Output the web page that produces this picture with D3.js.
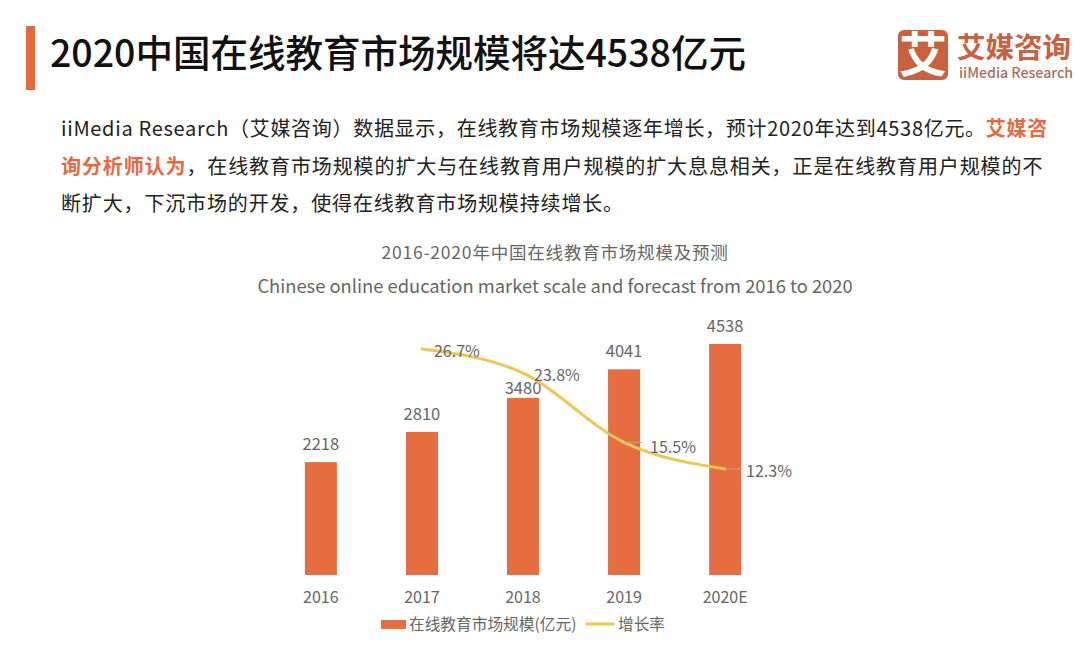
<!DOCTYPE html>
<html>
<head>
<meta charset="utf-8">
<script src="https://cdn.jsdelivr.net/npm/d3@7/dist/d3.min.js"></script>
<style>
html, body { margin: 0; padding: 0; background: #fff; }
text { font-family: "Noto Sans CJK SC", "Noto Sans", sans-serif; }
</style>
</head>
<body>
<div id="chart"></div>
<script>
var years = ['2016', '2017', '2018', '2019', '2020E'];
var marketScale = [2218, 2810, 3480, 4041, 4538];
var growthYears = ['2017', '2018', '2019', '2020E'];
var growthRate = [26.7, 23.8, 15.5, 12.3];
var seriesNames = ['在线教育市场规模(亿元)', '增长率'];
var bodyLines = [
    [['iiMedia Research（艾媒咨询）数据显示，在线教育市场规模逐年增长，预计2020年达到4538亿元。', '#222'], ['艾媒咨', '#e8693d']],
    [['询分析师认为', '#e8693d'], ['，在线教育市场规模的扩大与在线教育用户规模的扩大息息相关，正是在线教育用户规模的不', '#222']],
    [['断扩大，下沉市场的开发，使得在线教育市场规模持续增长。', '#222']]
];
var bodySpacing = [0.7, 0.9, 0.85];

var width = 1080, height = 666;
var orange = '#e76c3f', yellow = '#ecc84f', grey = '#666';

var svg = d3.select('#chart').append('svg')
    .attr('width', width)
    .attr('height', height)
    .style('display', 'block');

// header
svg.append('rect').attr('x', 26).attr('y', 26).attr('width', 9).attr('height', 64).attr('fill', '#e8693d');
svg.append('text').attr('x', 50).attr('y', 67)
    .attr('font-size', 37.5).attr('font-weight', 500).attr('fill', '#111')
    .text('2020中国在线教育市场规模将达4538亿元');

// logo
svg.append('rect').attr('x', 898).attr('y', 30).attr('width', 50).attr('height', 50).attr('rx', 6).attr('fill', '#c9603f');
svg.append('text').attr('x', 923).attr('y', 72).attr('text-anchor', 'middle')
    .attr('font-size', 48).attr('font-weight', 700).attr('fill', '#fff').text('艾');
svg.append('text').attr('x', 957).attr('y', 58)
    .attr('font-size', 28.5).attr('font-weight', 700).attr('fill', '#c9603f').text('艾媒咨询');
svg.append('text').attr('x', 959).attr('y', 77.5)
    .attr('font-size', 14.2).attr('font-weight', 500).attr('fill', '#a8705c').text('iiMedia Research');

// paragraph
bodyLines.forEach(function(parts, i) {
    var line = svg.append('text').attr('x', 61).attr('y', 136 + i * 37.5)
        .attr('font-size', 20).attr('letter-spacing', bodySpacing[i]);
    parts.forEach(function(p) {
        line.append('tspan').attr('fill', p[1])
            .attr('font-weight', p[1] === '#222' ? 400 : 700).text(p[0]);
    });
});

// chart titles
svg.append('text').attr('x', 555).attr('y', 259).attr('text-anchor', 'middle')
    .attr('font-size', 17.5).attr('letter-spacing', 0.8).attr('fill', grey).text('2016-2020年中国在线教育市场规模及预测');
svg.append('text').attr('x', 555).attr('y', 293).attr('text-anchor', 'middle')
    .attr('font-size', 18.35).attr('fill', grey).text('Chinese online education market scale and forecast from 2016 to 2020');

// scales
var x = d3.scaleBand().domain(years).range([270.5, 775.5]).paddingInner(0.683).paddingOuter(0.34);
var y = d3.scaleLinear().domain([0, 4538]).range([575, 344]);
var yRate = d3.scaleLinear().domain([12.3, 26.7]).range([469, 349]);

// bars
svg.selectAll('.bar').data(years).enter().append('rect')
    .attr('class', 'bar')
    .attr('x', function(d) { return x(d); })
    .attr('y', function(d, i) { return y(marketScale[i]); })
    .attr('width', x.bandwidth())
    .attr('height', function(d, i) { return y(0) - y(marketScale[i]); })
    .attr('fill', orange);

// 3480 sits closer to its bar in the original
var barLabelGap = [12, 12, 4, 12, 12];
svg.selectAll('.barLabel').data(years).enter().append('text')
    .attr('class', 'barLabel')
    .attr('x', function(d) { return x(d) + x.bandwidth() / 2; })
    .attr('y', function(d, i) { return y(marketScale[i]) - barLabelGap[i]; })
    .attr('text-anchor', 'middle')
    .attr('font-size', 16.5).attr('fill', grey)
    .text(function(d, i) { return marketScale[i]; });

// x axis
var axis = svg.append('g').attr('transform', 'translate(0,575)')
    .call(d3.axisBottom(x).tickSize(0).tickPadding(17));
axis.select('.domain').remove();
axis.selectAll('text')
    .style('font-family', '"Noto Sans CJK SC", sans-serif')
    .attr('font-size', 16).attr('fill', grey);

// growth line
var rateX = function(d) { return x(d) + x.bandwidth() / 2; };
var line = d3.line()
    .x(function(d) { return rateX(d); })
    .y(function(d, i) { return yRate(growthRate[i]); })
    .curve(d3.curveMonotoneX);

svg.append('path').datum(growthYears)
    .attr('d', line)
    .attr('fill', 'none')
    .attr('stroke', yellow)
    .attr('stroke-width', 3)
    .attr('stroke-linecap', 'round');

// leader lines and labels for the rate
var rateDx = [12, 11, 26, 21];
var rateDy = [8, 8, 11, 8];
var leader = [false, false, true, true];
svg.selectAll('.leader').data(growthYears).enter().append('line')
    .filter(function(d, i) { return leader[i]; })
    .attr('x1', rateX)
    .attr('x2', function(d) { return rateX(d) + 18; })
    .attr('y1', function(d) { return yRate(growthRate[growthYears.indexOf(d)]); })
    .attr('y2', function(d) { return yRate(growthRate[growthYears.indexOf(d)]); })
    .attr('stroke', '#aaa');

svg.selectAll('.rateLabel').data(growthYears).enter().append('text')
    .attr('class', 'rateLabel')
    .attr('x', function(d, i) { return rateX(d) + rateDx[i]; })
    .attr('y', function(d, i) { return yRate(growthRate[i]) + rateDy[i]; })
    .attr('font-size', 16).attr('fill', grey)
    .text(function(d, i) { return growthRate[i] + '%'; });

// legend
svg.append('rect').attr('x', 381).attr('y', 620).attr('width', 25).attr('height', 9).attr('fill', orange);
svg.append('text').attr('x', 409).attr('y', 630).attr('font-size', 15.7).attr('fill', grey).text(seriesNames[0]);
svg.append('line').attr('x1', 586).attr('x2', 614).attr('y1', 624).attr('y2', 624)
    .attr('stroke', yellow).attr('stroke-width', 3);
svg.append('text').attr('x', 618).attr('y', 630).attr('font-size', 15.7).attr('fill', grey).text(seriesNames[1]);
</script>
</body>
</html>
